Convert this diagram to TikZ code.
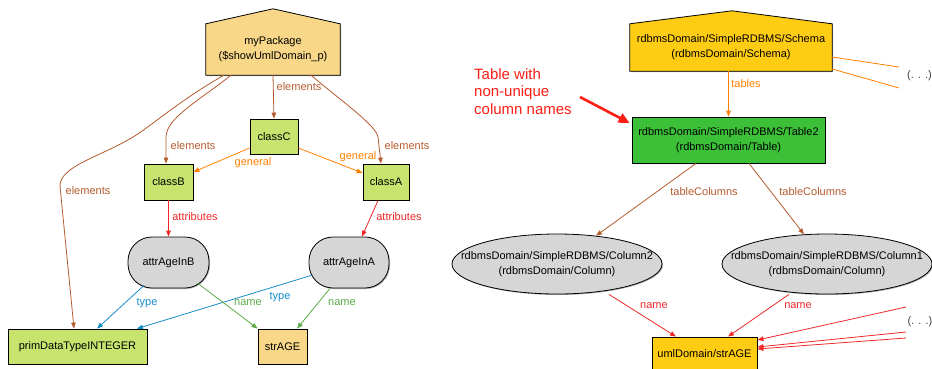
\documentclass[tikz,border=0pt]{standalone}
\usepackage{fontspec}
\setmainfont{Liberation Sans}
\usetikzlibrary{arrows.meta,shapes.geometric,shadows,backgrounds}
\definecolor{ebrown}{RGB}{180,90,45}
\definecolor{eorange}{RGB}{255,128,0}
\definecolor{ered}{RGB}{240,40,40}
\definecolor{eblue}{RGB}{20,140,200}
\definecolor{egreen}{RGB}{90,170,70}
\definecolor{pkgfill}{RGB}{248,216,136}
\definecolor{clsfill}{RGB}{200,228,110}
\definecolor{grayfill}{RGB}{214,214,214}
\definecolor{goldfill}{RGB}{255,204,20}
\definecolor{tblfill}{RGB}{60,192,56}
\definecolor{annot}{RGB}{250,30,20}
\begin{document}
\begin{tikzpicture}[x=1pt,y=-1pt,
  shadowed/.style={drop shadow={shadow xshift=1pt,shadow yshift=-1pt,fill=black,opacity=0.3}},
  base/.style={draw=black,line width=0.8pt,inner sep=0pt,align=center,
    font=\fontsize{11}{15}\selectfont,shadowed},
  boxnode/.style={base,rectangle},
  roundnode/.style={base,rectangle,rounded corners=24pt,fill=grayfill},
  ellnode/.style={base,ellipse,fill=grayfill,inner xsep=-22pt},
  housebody/.style={rectangle,inner sep=0pt,align=center,font=\fontsize{11}{15}\selectfont},
  houseline/.style={draw=black,line width=0.8pt,shadowed},
  edge/.style={line width=0.8pt,-{Triangle[length=6pt,width=4.5pt]}},
  plain/.style={line width=0.8pt},
  lbl/.style={inner sep=0pt,font=\fontsize{11}{12}\selectfont},
  dots/.style={inner sep=0pt,font=\fontsize{11}{13}\selectfont,text=black!75}
]
\useasboundingbox (0,0) rectangle (932,368);

% ---------------- left graph ----------------
\node[housebody,minimum width=134pt,minimum height=51pt] (pkg) at (273,49.5) {myPackage\\(\$showUmlDomain\_p)};
\begin{scope}[on background layer]
\filldraw[houseline,fill=pkgfill] (pkg.south west) -- (pkg.north west) -- ([yshift=15pt]pkg.north) -- (pkg.north east) -- (pkg.south east) -- cycle;
\end{scope}

\node[boxnode,fill=clsfill,minimum width=48pt,minimum height=35pt] (cC) at (274,136.5) {classC};
\node[boxnode,fill=clsfill,minimum width=49pt,minimum height=36pt] (cB) at (168.5,182) {classB};
\node[boxnode,fill=clsfill,minimum width=46pt,minimum height=36pt] (cA) at (386,182) {classA};
\node[roundnode,minimum width=81pt,minimum height=51pt] (aB) at (168.5,262.5) {attrAgeInB};
\node[roundnode,minimum width=80pt,minimum height=51pt] (aA) at (349,262.5) {attrAgeInA};
\node[boxnode,fill=clsfill,minimum width=139pt,minimum height=35pt] (prim) at (77.5,346.5) {primDataTypeINTEGER};
\node[boxnode,fill=pkgfill,minimum width=49pt,minimum height=35pt] (sAGE) at (282.5,346.5) {strAGE};

\draw[edge,ebrown] (pkg.south) -- (cC.north)
  node[lbl,text=ebrown,at={(299,87)}] {elements};
\draw[edge,ebrown] ([xshift=38pt]pkg.south) .. controls (340,100) and (376,125) .. (378,137) -- ([xshift=-5pt]cA.north)
  node[lbl,text=ebrown,at={(407,146)}] {elements};
\draw[edge,ebrown] ([xshift=-42pt]pkg.south) .. controls (200,100) and (166,118) .. (166,137) -- ([xshift=-2.5pt]cB.north)
  node[lbl,text=ebrown,at={(193,146)}] {elements};
\draw[edge,ebrown] ([xshift=-49pt]pkg.south) .. controls (180,100) and (150,127) .. (133,137)
  .. controls (100,157) and (60,166) .. (60,186) -- ([xshift=-3.5pt]prim.north)
  node[lbl,text=ebrown,at={(88,191)}] {elements};

\draw[edge,eorange] ([yshift=-11.5pt]cC.west) -- ([yshift=10pt]cB.east)
  node[lbl,text=eorange,at={(253,163)}] {general};
\draw[edge,eorange] ([yshift=-11.5pt]cC.east) -- ([yshift=9pt]cA.west)
  node[lbl,text=eorange,at={(358,157)}] {general};

\draw[edge,ered] (cB.south) -- (aB.north)
  node[lbl,text=ered,at={(195,217)}] {attributes};
\draw[edge,ered] ([xshift=-8pt]cA.south) -- ([xshift=13pt]aA.north)
  node[lbl,text=ered,at={(399,217)}] {attributes};

\draw[edge,eblue] ([xshift=-24.5pt,yshift=3pt]aB.south) -- ([xshift=19.5pt]prim.north)
  node[lbl,text=eblue,at={(147,303)}] {type};
\draw[edge,eblue] ([xshift=4pt,yshift=-12.5pt]aA.west) -- ([xshift=59.5pt]prim.north)
  node[lbl,text=eblue,at={(280,297)}] {type};

\draw[edge,egreen] ([xshift=-12pt,yshift=-20.5pt]aB.east) -- (sAGE.north west)
  node[lbl,text=egreen,at={(248,303)}] {name};
\draw[edge,egreen] ([xshift=-19pt]aA.south) -- ([xshift=14.5pt]sAGE.north)
  node[lbl,text=egreen,at={(342,303)}] {name};

% ---------------- right graph ----------------
\node[housebody,minimum width=202pt,minimum height=47pt] (sch) at (731,47.5) {rdbmsDomain/SimpleRDBMS/Schema\\(rdbmsDomain/Schema)};
\begin{scope}[on background layer]
\filldraw[houseline,fill=goldfill] (sch.south west) -- (sch.north west) -- ([xshift=1pt,yshift=13pt]sch.north) -- (sch.north east) -- (sch.south east) -- cycle;
\end{scope}

\node[boxnode,fill=tblfill,minimum width=193pt,minimum height=46pt] (t2) at (728.5,140) {rdbmsDomain/SimpleRDBMS/Table2\\(rdbmsDomain/Table)};
\node[ellnode,minimum width=210pt,minimum height=60pt] (c2) at (557,264) {rdbmsDomain/SimpleRDBMS/Column2\\(rdbmsDomain/Column)};
\node[ellnode,minimum width=210pt,minimum height=60pt] (c1) at (827,264) {rdbmsDomain/SimpleRDBMS/Column1\\(rdbmsDomain/Column)};
\node[boxnode,fill=goldfill,minimum width=105pt,minimum height=34pt] (u) at (704.5,354) {umlDomain/strAGE};

\node[dots] (dtop) at (919.5,76) {(. . .)};
\node[dots] (dbot) at (920,322) {(. . .)};
\coordinate (o1) at (899,67);
\coordinate (o2) at (899,88);
\coordinate (r1) at (906,307);
\coordinate (r2) at (906,332);
\coordinate (r3) at (906,338);

\draw[edge,eorange] (t2.north |- sch.south) -- (t2.north)
  node[lbl,text=eorange,at={(746,84)}] {tables};
\draw[plain,eorange] ([yshift=-9.5pt]sch.east) -- (o1);
\draw[plain,eorange] ([yshift=-21.5pt]sch.east) -- (o2);

\draw[edge,ebrown] ([xshift=-32.5pt]t2.south) -- (c2)
  node[lbl,text=ebrown,at={(704,192)}] {tableColumns};
\draw[edge,ebrown] ([xshift=20.5pt]t2.south) -- (c1)
  node[lbl,text=ebrown,at={(813,192)}] {tableColumns};

\draw[edge,ered] ([xshift=52pt]c2.south) -- ([xshift=-28.5pt]u.north)
  node[lbl,text=ered,at={(654,306)}] {name};
\draw[edge,ered] ([xshift=-38pt]c1.south) -- ([xshift=23.5pt]u.north)
  node[lbl,text=ered,at={(798,306)}] {name};
\draw[edge,ered] (r1) -- ([yshift=14pt]u.east);
\draw[edge,ered] (r2) -- ([yshift=7pt]u.east);
\draw[edge,ered] (r3) -- ([yshift=5pt]u.east);

% annotation
\node[inner sep=0pt,align=left,anchor=north west,text=annot,font=\fontsize{15}{17.5}\selectfont] (note) at (474,68) {Table with\\non-unique\\column names};
\coordinate (na) at (580,97);
\draw[annot,line width=2.6pt,-{Triangle[length=11pt,width=10pt]}] (na) -- ([xshift=-2pt,yshift=17pt]t2.west);
\end{tikzpicture}
\end{document}
